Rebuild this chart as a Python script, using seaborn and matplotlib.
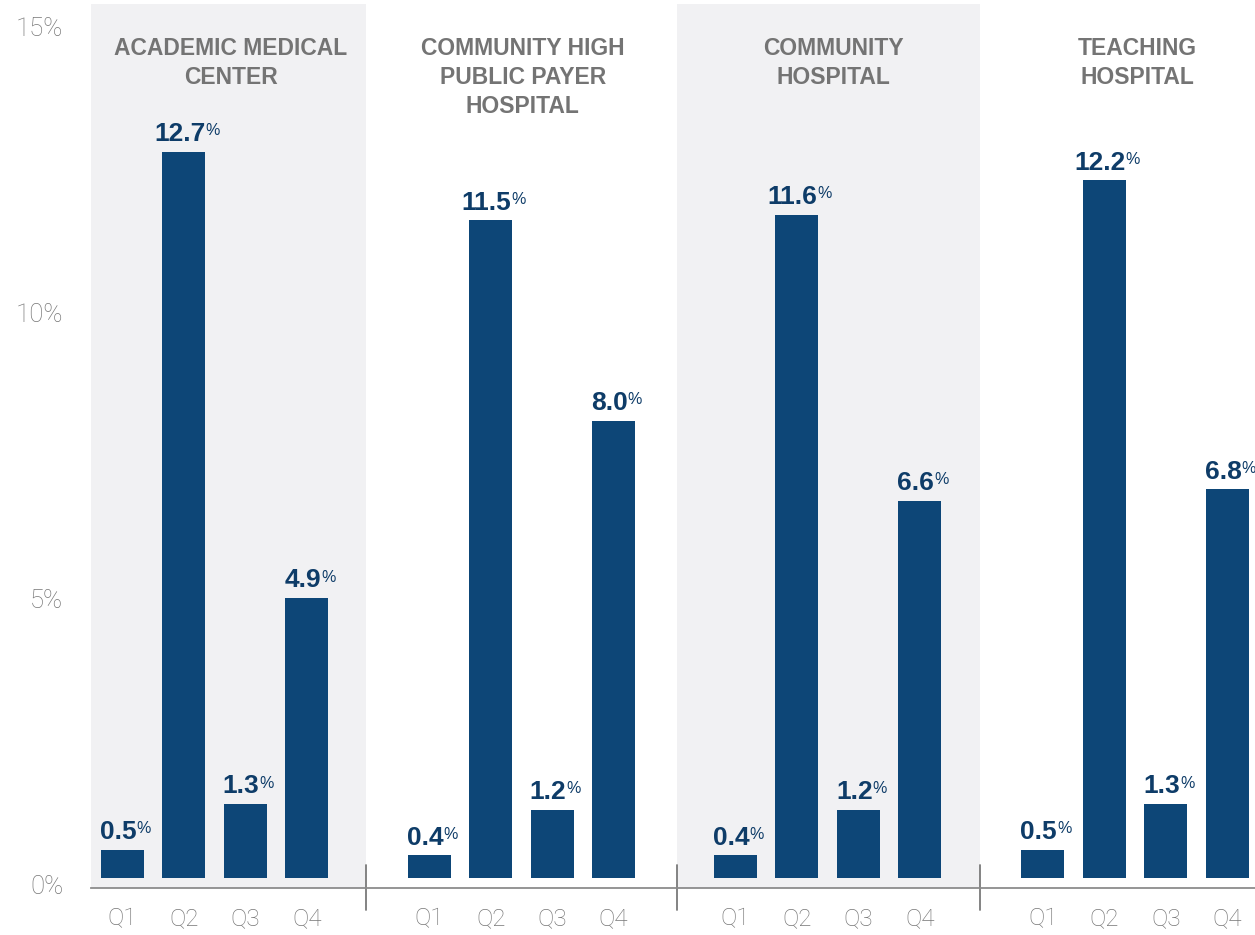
import matplotlib
matplotlib.use("Agg")
import matplotlib.pyplot as plt
import matplotlib.transforms as mtransforms
import seaborn as sns
import pandas as pd

# hospital groups and their quarterly values (%)
hospital_types = ["ACADEMIC MEDICAL\nCENTER", "COMMUNITY HIGH\nPUBLIC PAYER\nHOSPITAL",
                  "COMMUNITY\nHOSPITAL", "TEACHING\nHOSPITAL"]
quarters = ["Q1", "Q2", "Q3", "Q4"]
academic_medical = [0.5, 12.7, 1.3, 4.9]
community_high_public = [0.4, 11.5, 1.2, 8.0]
community_hospital = [0.4, 11.6, 1.2, 6.6]
teaching_hospital = [0.5, 12.2, 1.3, 6.8]
y_ticks = [0, 5, 10, 15]
y_tick_labels = ["0%", "5%", "10%", "15%"]

series = [academic_medical, community_high_public, community_hospital, teaching_hospital]
rows = []
for name, vals in zip(hospital_types, series):
    for q, v in zip(quarters, vals):
        rows.append({"type": name, "quarter": q, "value": v})
df = pd.DataFrame(rows)

BAR = "#0d4677"
LABEL = "#0e3c68"
GREY_TXT = "#767676"
TITLE_TXT = "#747474"
PANEL = "#f1f1f3"

sns.set_theme(style="white")
plt.rcParams["font.family"] = ["Liberation Sans", "DejaVu Sans"]

fig = plt.figure(figsize=(12.55, 9.35), dpi=100)
xlims = [(-0.51, 3.97), (-1.02, 4.03), (-0.95, 3.98), (-1.02, 3.45)]
title_x = [1.76, 1.52, 1.6, 1.53]
gs = fig.add_gridspec(1, 4, width_ratios=[b - a for a, b in xlims],
                      left=0.0725, right=1.0, bottom=0.0503, top=0.9957, wspace=0)

for i, name in enumerate(hospital_types):
    ax = fig.add_subplot(gs[0, i])
    sub = df[df["type"] == name]
    sns.barplot(data=sub, x="quarter", y="value", order=quarters, color=BAR,
                saturation=1, width=0.7, linewidth=0, ax=ax)
    ax.set_xlim(*xlims[i])
    ax.set_ylim(-0.17, 15.28)
    ax.set_facecolor(PANEL if i % 2 == 0 else "white")
    ax.set_xlabel("")
    ax.set_ylabel("")
    for s in ["top", "left", "right"]:
        ax.spines[s].set_visible(False)
    ax.spines["bottom"].set_color("#8c8c8c")
    ax.spines["bottom"].set_linewidth(1.3)
    ax.tick_params(axis="x", length=0, pad=14, labelsize=17.5, labelcolor=GREY_TXT)
    for t in ax.get_xticklabels():
        t.set_family(["Roboto", "DejaVu Sans"])
        t.set_fontweight("light")

    if i == 0:
        ax.set_yticks(y_ticks)
        ax.set_yticklabels(y_tick_labels)
        ax.tick_params(axis="y", length=0, pad=20, labelsize=18.5, labelcolor=GREY_TXT)
        off = mtransforms.ScaledTranslation(0, -0.06, fig.dpi_scale_trans)
        for t in ax.get_yticklabels():
            t.set_family(["Roboto", "DejaVu Sans"])
            t.set_fontweight("light")
            t.set_transform(t.get_transform() + off)
    else:
        ax.set_yticks([])
        # separator tick between groups
        ax.plot([0, 0], [-0.025, 0.026], transform=ax.transAxes, color="#7a7a7a",
                lw=1.3, clip_on=False)

    # group title
    ax.text(title_x[i], 0.963, name, transform=ax.get_xaxis_transform(), ha="center",
            va="top", fontsize=16.5, fontweight="bold", color=TITLE_TXT, linespacing=1.34)

    # value labels with small superscript %
    for bar in ax.patches:
        h = bar.get_height()
        x = bar.get_x() + bar.get_width() / 2
        num = ax.annotate(f"{h:.1f}", xy=(x, h), xytext=(-3, 4), textcoords="offset points",
                          ha="center", va="bottom", fontsize=19, fontweight="bold", color=LABEL)
        ax.annotate("%", xy=(1, 1), xycoords=num, xytext=(0, -1), textcoords="offset points",
                    ha="left", va="top", fontsize=11.5, color=LABEL)

fig.savefig("out.png", dpi=100)
